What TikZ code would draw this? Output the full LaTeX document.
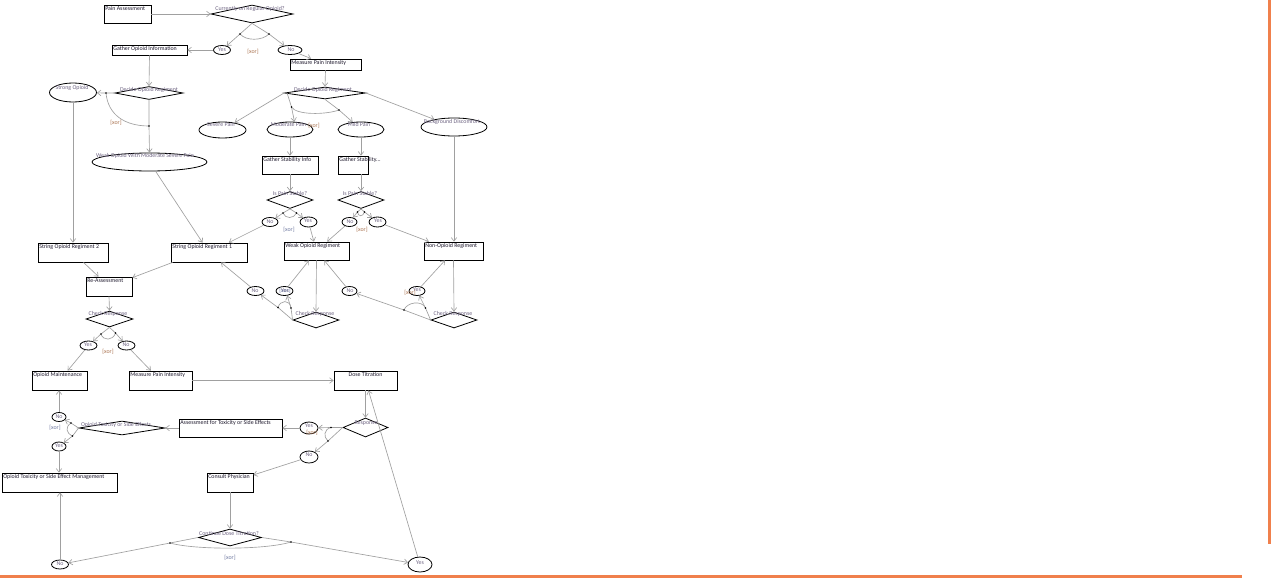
\documentclass[tikz,border=0pt]{standalone}
\usepackage{fontspec}
\setmainfont{Carlito}
\usetikzlibrary{shapes.geometric,arrows.meta}
\definecolor{boxtext}{RGB}{30,25,45}
\definecolor{labtext}{RGB}{110,100,130}
\definecolor{xorbrown}{RGB}{170,115,80}
\definecolor{xorblue}{RGB}{110,120,160}
\definecolor{linegray}{RGB}{160,160,160}
\definecolor{orangeline}{RGB}{240,128,76}
\newcommand\dgfont{\fontsize{5.9pt}{6.5pt}\selectfont}
\newcommand\mybox[6]{%
  \node[box,minimum width=#4pt,minimum height=#5pt] (#1) at (#2,#3) {};
  \node[btxt] (#1-t) at (#1.north west) {#6};}
\newcommand\myell[5]{%
  \node[ell,minimum width=#4pt,minimum height=#5pt] (#1) at (#2,#3) {};}
\newcommand\mydia[5]{%
  \node[dia,minimum width=#4pt,minimum height=#5pt] (#1) at (#2,#3) {};}
\begin{document}
\begin{tikzpicture}[x=1pt,y=-1pt,
  box/.style={draw=black,line width=0.8pt,rectangle,inner sep=0pt},
  ell/.style={draw=black,line width=0.8pt,ellipse,inner sep=0pt},
  dia/.style={draw=black,line width=0.8pt,diamond,inner sep=0pt},
  btxt/.style={font=\dgfont,text=boxtext,inner sep=1.5pt,anchor=north west},
  ltxt/.style={font=\dgfont,text=labtext,inner sep=0pt},
  xorb/.style={font=\dgfont,text=xorbrown,inner sep=0pt},
  xorl/.style={font=\dgfont,text=xorblue,inner sep=0pt},
  conn/.style={draw=linegray,line width=0.65pt,-{Straight Barb[length=3.5pt,width=5.5pt]}},
  arcl/.style={draw=linegray,line width=0.65pt},
  dotst/.style={fill=black,circle,inner sep=0pt,minimum size=2pt}]
\fill[white] (0,0) rectangle (1271,578);
\useasboundingbox (0,0) rectangle (1271,578);
\draw[orangeline,line width=3pt] (1269,0) -- (1269,544);
\draw[orangeline,line width=3pt] (0,576) -- (1242,576);
% boxes
\mybox{pa}{127.5}{14}{47}{18}{Pain Assessment}
\mybox{goi}{149.5}{50}{75}{10}{Gather Opioid Information}
\mybox{mpi1}{325.5}{64.5}{71}{11}{Measure Pain Intensity}
\mybox{sor2}{73}{252.5}{70}{19}{String Opioid Regiment 2}
\mybox{sor1}{209}{252.5}{76}{19}{String Opioid Regiment 1}
\mybox{gsi1}{290}{165}{56}{18}{Gather Stability Info}
\mybox{gsi2}{353}{165}{30}{18}{Gather Stability...}
\mybox{wor}{316.5}{251}{65}{18}{Weak Opioid Regiment}
\mybox{nor}{453.5}{251}{59}{18}{Non-Opioid Regiment}
\mybox{ra}{109}{286.5}{46}{19}{Re-Assessment}
\mybox{om}{59.5}{380.5}{55}{19}{Opioid Maintenance}
\mybox{mpi2}{160.5}{380.5}{63}{19}{Measure Pain Intensity}
\node[box,minimum width=63pt,minimum height=19pt] (dt) at (365.5,380.5) {};
\node[btxt,anchor=north] (dt-t) at (dt.north) {Dose Titration};
\mybox{ats}{230.5}{428}{103}{18}{Assessment for Toxicity or Side Effects}
\mybox{otm}{59.5}{482.5}{115}{19}{Opioid Toxicity or Side Effect Management}
\mybox{cp}{230}{482.5}{46}{19}{Consult Physician}
% diamonds
\mydia{d0}{252}{14}{82}{18}
\mydia{d1}{149}{93}{68}{13}
\mydia{d2}{325}{93}{81}{12}
\mydia{d3}{290}{200}{46}{17}
\mydia{d4}{361}{200}{46}{17}
\mydia{d5}{109.5}{319}{47}{16}
\mydia{d6}{316}{320}{46}{16}
\mydia{d7}{454}{320}{46}{16}
\mydia{d8}{365.5}{427.5}{45}{19}
\mydia{d9}{122}{428}{86}{14}
\mydia{d10}{230}{537.5}{63}{17}
% ellipses
\myell{yes0}{222}{50}{17}{9}
\myell{no0}{290}{50}{24}{9}
\myell{so}{73}{92.5}{47}{19}
\myell{wo}{149.5}{162}{115}{18}
\myell{sev}{222.5}{130}{47}{16}
\myell{mod}{290}{129.5}{46}{15}
\myell{mild}{361}{129.5}{46}{15}
\myell{bd}{454}{127}{66}{18}
\myell{no3}{270}{222}{16}{9}
\myell{yes3}{308.5}{222}{17}{10}
\myell{no4}{349.5}{222}{15}{9}
\myell{yes4}{377.5}{222}{17}{10}
\myell{noW}{255.5}{291}{17}{9}
\myell{yesW}{284.5}{291}{17}{9}
\myell{noN}{349.5}{291}{15}{9}
\myell{yesN}{417}{291}{16}{9}
\myell{yes5}{88.5}{345.5}{17}{9}
\myell{no5}{126.5}{345.5}{17}{9}
\myell{noT}{59}{417}{14}{9}
\myell{yesT}{59}{446.5}{14}{9}
\myell{yesR}{309}{428}{18}{12}
\myell{noR}{309}{457}{18}{12}
\myell{noC}{60}{564.5}{17}{9}
\myell{yesC}{420}{564.5}{24}{15}
% dot coordinates
\coordinate (d0a) at (240,34);   \coordinate (d0b) at (269,34);
\coordinate (d1a) at (106,93);   \coordinate (d1b) at (149,126);
\coordinate (d2a) at (291.5,107);\coordinate (d2b) at (339,110);
\coordinate (d3a) at (283,213);  \coordinate (d3b) at (296.5,213);
\coordinate (d4a) at (357.5,212);\coordinate (d4b) at (364.5,212);
\coordinate (d5a) at (101,334);  \coordinate (d5b) at (115.5,333);
\coordinate (d6a) at (278,307.5);\coordinate (d6b) at (291,308);
\coordinate (d7a) at (404,310);  \coordinate (d7b) at (425.5,308);
\coordinate (d8a) at (331,427.5);\coordinate (d8b) at (328,441);
\coordinate (d9a) at (71,423);   \coordinate (d9b) at (72.5,436);
\coordinate (d10a) at (170,543); \coordinate (d10b) at (291,542);
% connectors
\draw[conn] (pa.east) -- (d0.west);
\draw[conn] (d0.south) -- (d0a) -- (yes0);
\draw[conn] (d0.south) -- (d0b) -- (no0);
\draw[conn] (yes0.west) -- (goi.east);
\draw[conn] (no0) -- (mpi1);
\draw[conn] (goi.south) -- (d1.north);
\draw[conn] (d1.west) -- (d1a) -- (so);
\draw[conn] (d1.south) -- (d1b) -- (wo.north);
\draw[conn] (so.south) -- (sor2.north);
\draw[conn] (wo) -- (sor1);
\draw[conn] (sor2) -- (ra);
\draw[conn] ([xshift=2pt]sor1.south west) -- (ra);
\draw[conn] (mpi1.south) -- (d2.north);
\draw[conn] (d2.west) -- (sev);
\draw[conn] ([xshift=3pt]d2.west) -- (d2a) -- (mod.60);
\draw[conn] (d2.south) -- (d2b) -- (mild);
\draw[conn] (d2.east) -- (bd);
\draw[conn] (mod.south) -- (gsi1.north);
\draw[conn] (mild.south) -- (mild.south |- gsi2.north);
\draw[conn] (bd.south) -- (bd.south |- nor.north);
\draw[conn] (gsi1.south) -- (d3.north);
\draw[conn] (d4.north |- gsi2.south) -- (d4.north);
\draw[conn] (d3.south) -- (d3a) -- (no3);
\draw[conn] (d3.south) -- (d3b) -- (yes3);
\draw[conn] (d4.south) -- (d4a) -- (no4);
\draw[conn] (d4.south) -- (d4b) -- (yes4);
\draw[conn] (no3) -- (sor1);
\draw[conn] (yes3) -- (wor);
\draw[conn] (no4) -- (wor);
\draw[conn] (yes4) -- (nor);
\draw[conn] (wor.south) -- (d6.north);
\draw[conn] (nor.south) -- (d7.north);
\draw[conn] (d6.west) -- (d6a) -- (noW);
\draw[conn] (d6.west) -- (d6b) -- (yesW.-60);
\draw[conn] (d7.west) -- (d7a) -- (noN);
\draw[conn] (d7.west) -- (d7b) -- (yesN);
\draw[conn] (noW) -- (sor1);
\draw[conn] (yesW) -- (wor);
\draw[conn] (noN) -- (wor);
\draw[conn] (yesN) -- (nor);
\draw[conn] (ra.south) -- (d5.north);
\draw[conn] (d5.south) -- (d5a) -- (yes5);
\draw[conn] (d5.south) -- (d5b) -- (no5);
\draw[conn] (yes5) -- (om);
\draw[conn] (no5) -- (mpi2);
\draw[conn] (mpi2.east) -- (dt.west);
\draw[conn] (dt.south) -- (d8.north);
\draw[conn] (d8.west) -- (d8a) -- (yesR);
\draw[conn] (d8.west) -- (d8b) -- (noR);
\draw[conn] (yesR.west) -- (ats.east);
\draw[conn] (noR) -- (cp);
\draw[conn] (ats.west) -- (d9.east);
\draw[conn] (d9.west) -- (d9a) -- (noT);
\draw[conn] (d9.west) -- (d9b) -- (yesT);
\draw[conn] (noT.north) -- (noT.north |- om.south);
\draw[conn] (yesT.south) -- (yesT.south |- otm.north);
\draw[conn] (cp.south) -- (d10.north);
\draw[conn] (d10.west) -- (d10a) -- (noC);
\draw[conn] (d10.east) -- (d10b) -- (yesC);
\draw[conn] (noC.north) -- (noC.north |- otm.south);
\draw[conn] (yesC) -- (dt);
% xor arcs
\draw[arcl] (d0a) .. controls (246,41) and (262,41) .. (d0b);
\draw[arcl] (d1a) .. controls (108,115) and (125,126) .. (d1b);
\draw[arcl] (d2a) .. controls (296,115) and (325,115) .. (d2b);
\draw[arcl] (d3a) .. controls (285,219) and (294,219) .. (d3b);
\draw[arcl] (d4a) .. controls (358,217) and (363,217) .. (d4b);
\draw[arcl] (d5a) .. controls (103,341) and (113,341) .. (d5b);
\draw[arcl] (d6a) .. controls (280,300) and (290,299) .. (d6b);
\draw[arcl] (d7a) .. controls (407,302) and (422,300) .. (d7b);
\draw[arcl] (d8a) .. controls (324,429) and (323,437) .. (d8b);
\draw[arcl] (d9a) .. controls (65,427) and (66,433) .. (d9b);
\draw[arcl] (d10a) .. controls (195,550) and (265,550) .. (d10b);
\foreach \p in {d0a,d0b,d1a,d1b,d2a,d2b,d3a,d3b,d4a,d4b,d5a,d5b,d6a,d6b,d7a,d7b,d8a,d8b,d9a,d9b,d10a,d10b}
  \fill (\p) circle (0.9pt);
% labels
\node[ltxt] (d0-t) at (250,9) {Currently on Regular Opioid?};
\node[ltxt] (yes0-t) at (222,50) {Yes};
\node[ltxt] (no0-t) at (291,50) {No};
\node[xorb] (x0) at (253,51.5) {[xor]};
\node[ltxt] (d1-t) at (149,90) {Decide Opioid Regiment};
\node[ltxt] (so-t) at (72,88) {Strong Opioid};
\node[xorb] (x1) at (116,123) {[xor]};
\node[ltxt] (wo-t) at (145,156) {Weak Opioid With Moderate Severe Pain};
\node[ltxt] (d2-t) at (323,89.5) {Decide Opioid Regiment};
\node[ltxt] (sev-t) at (221,124) {Severe Pain};
\node[ltxt] (mod-t) at (288.5,124) {Moderate Pain};
\node[xorb] (x2) at (314,126) {[xor]};
\node[ltxt] (mild-t) at (359,124) {Mild Pain};
\node[ltxt] (bd-t) at (452,122) {Background Discomfort};
\node[ltxt] (d3-t) at (290,193.5) {Is Pain Stable?};
\node[ltxt] (d4-t) at (360,193.5) {Is Pain Stable?};
\node[ltxt] (no3-t) at (270,222) {No};
\node[ltxt] (yes3-t) at (308,221) {Yes};
\node[xorl] (x3) at (289,230) {[xor]};
\node[ltxt] (no4-t) at (350,222) {No};
\node[ltxt] (yes4-t) at (378,221) {Yes};
\node[xorb] (x4) at (362,230) {[xor]};
\node[ltxt] (d6-t) at (315,314) {Check Response};
\node[ltxt] (noW-t) at (255,291) {No};
\node[ltxt] (yesW-t) at (285,291) {Yes};
\node[xorl] (x6) at (285,291) {[xor]};
\node[ltxt] (d7-t) at (453,314) {Check Response};
\node[ltxt] (noN-t) at (350,291) {No};
\node[ltxt] (yesN-t) at (417,289.5) {Yes};
\node[xorb] (x7) at (410,293) {[xor]};
\node[ltxt] (d5-t) at (108,314) {Check Response};
\node[ltxt] (yes5-t) at (88,345) {Yes};
\node[ltxt] (no5-t) at (126,345) {No};
\node[xorb] (x5) at (108,352) {[xor]};
\node[ltxt] (d8-t) at (366,423) {Response};
\node[ltxt] (yesR-t) at (309,425.5) {Yes};
\node[xorb] (x8) at (312,433) {[xor]};
\node[ltxt] (noR-t) at (309,455) {No};
\node[ltxt] (d9-t) at (116,425) {Opioid Toxicity or Side Effects};
\node[ltxt] (noT-t) at (59,416.5) {No};
\node[ltxt] (yesT-t) at (59,446) {Yes};
\node[xorl] (x9) at (55,428) {[xor]};
\node[ltxt] (d10-t) at (229,533) {Continue Dose Titration?};
\node[ltxt] (noC-t) at (60,564) {No};
\node[ltxt] (yesC-t) at (420,563) {Yes};
\node[xorl] (x10) at (230,558) {[xor]};
\end{tikzpicture}
\end{document}
